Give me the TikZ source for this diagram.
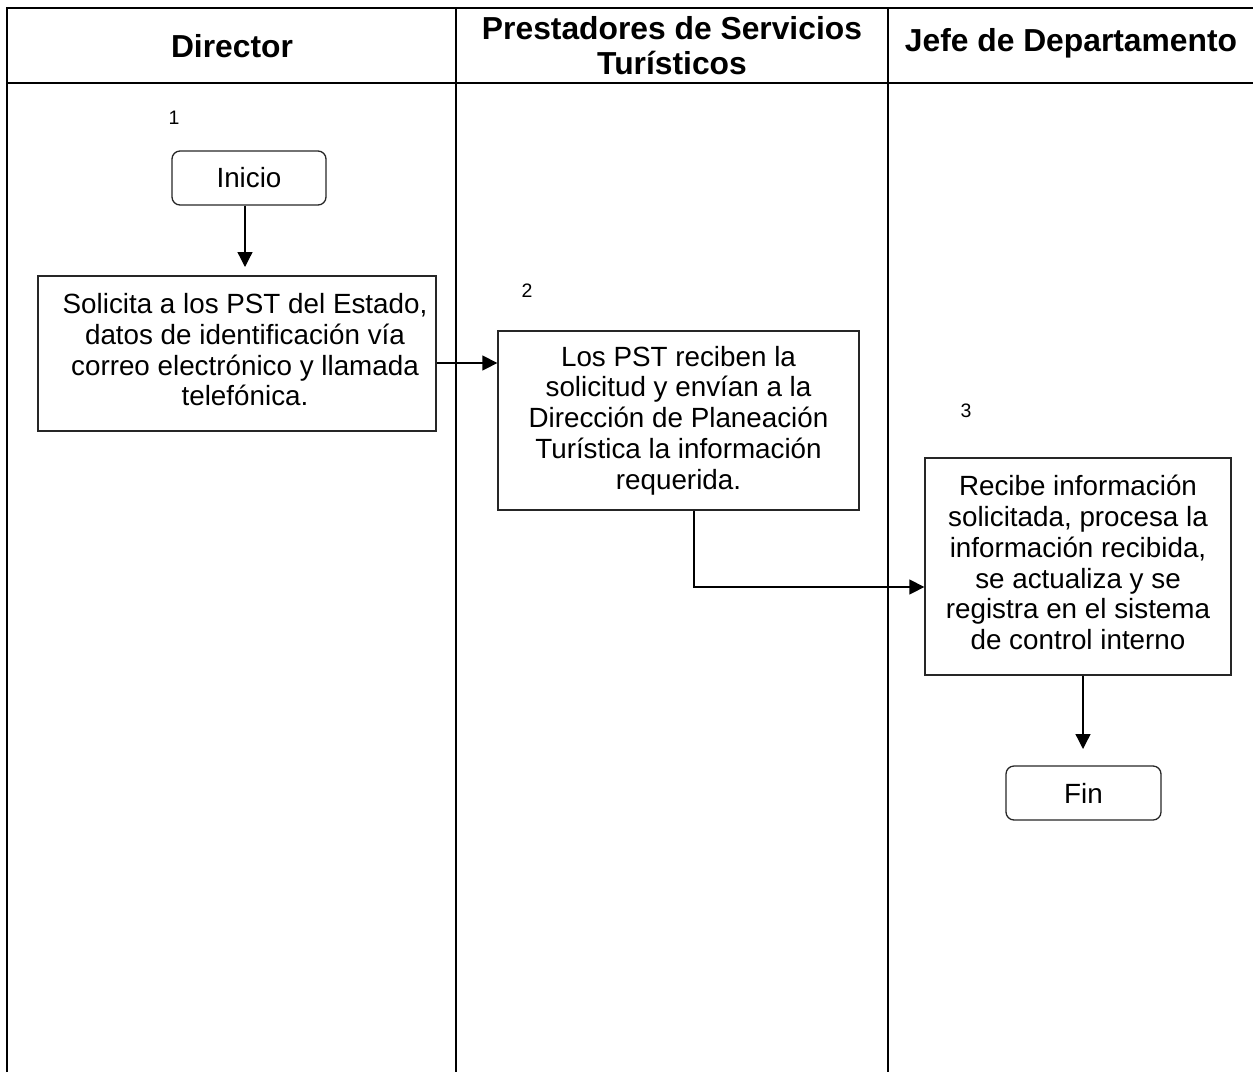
\documentclass[tikz,border=0pt]{standalone}
\usepackage{fontspec}
\setmainfont{Liberation Sans}
\usetikzlibrary{arrows.meta}
\begin{document}
\begin{tikzpicture}[x=1pt,y=-1pt,
  lane/.style={line width=2pt,black},
  hdr/.style={font=\fontsize{31.8}{35}\selectfont\bfseries,align=center,inner sep=0pt},
  proc/.style={draw=black!85,line width=1.3pt,align=center,font=\fontsize{27.8}{30.8}\selectfont,inner sep=0pt},
  term/.style={proc,rounded corners=8pt},
  num/.style={font=\fontsize{19.5}{20}\selectfont,inner sep=0pt},
  arr/.style={line width=1.3pt,-{Triangle[length=15pt,width=15pt]}}]
\useasboundingbox (0,0) rectangle (1253,1072);
% swimlane grid
\draw[lane] (7,1072) -- (7,7.5) -- (1253,7.5);
\draw[lane] (7,83) -- (1253,83);
\draw[lane] (456,7.5) -- (456,1072);
\draw[lane] (888,7.5) -- (888,1072);
% headers
\node[hdr] (h1) at (232,46) {Director};
\node[hdr] (h2) at (672,46) {Prestadores de Servicios\\Turísticos};
\node[hdr] (h3) at (1071,43) {Jefe de Departamento};
% numbers
\node[num] (n1) at (174,118) {1};
\node[num] (n2) at (527,291) {2};
\node[num] (n3) at (966,411) {3};
% nodes
\node[term,minimum width=154pt,minimum height=54pt] (ini) at (249,178) {Inicio};
\node[proc,minimum width=398pt,minimum height=155pt] (sol) at (237,353.5)
  {\raisebox{5pt}{\hspace*{16pt}\begin{tabular}{@{}c@{}}Solicita a los PST del Estado,\\datos de identificación vía\\correo electrónico y llamada\\telefónica.\end{tabular}}};
\node[proc,minimum width=361pt,minimum height=179pt] (pst) at (678.5,420.5)
  {Los PST reciben la\\solicitud y envían a la\\Dirección de Planeación\\Turística la información\\requerida.};
\node[proc,minimum width=306pt,minimum height=217pt] (rec) at (1078,566.5)
  {\raisebox{3pt}{\begin{tabular}{@{}c@{}}Recibe información\\solicitada, procesa la\\información recibida,\\se actualiza y se\\registra en el sistema\\de control interno\end{tabular}}};
\node[term,minimum width=155pt,minimum height=54pt] (fin) at (1083.5,793) {Fin};
% connectors
\coordinate (t1) at (245,267);
\coordinate (t2) at (1083,749);
\coordinate (b1) at (694,587);
\coordinate (a1) at (0,363);
\draw[arr] (ini.south -| t1) -- (t1);
\draw[arr] (sol.east |- a1) -- (pst.west |- a1);
\draw[arr] (pst.south -| b1) |- (rec.west |- b1);
\draw[arr] (rec.south -| t2) -- (t2);
\end{tikzpicture}
\end{document}
